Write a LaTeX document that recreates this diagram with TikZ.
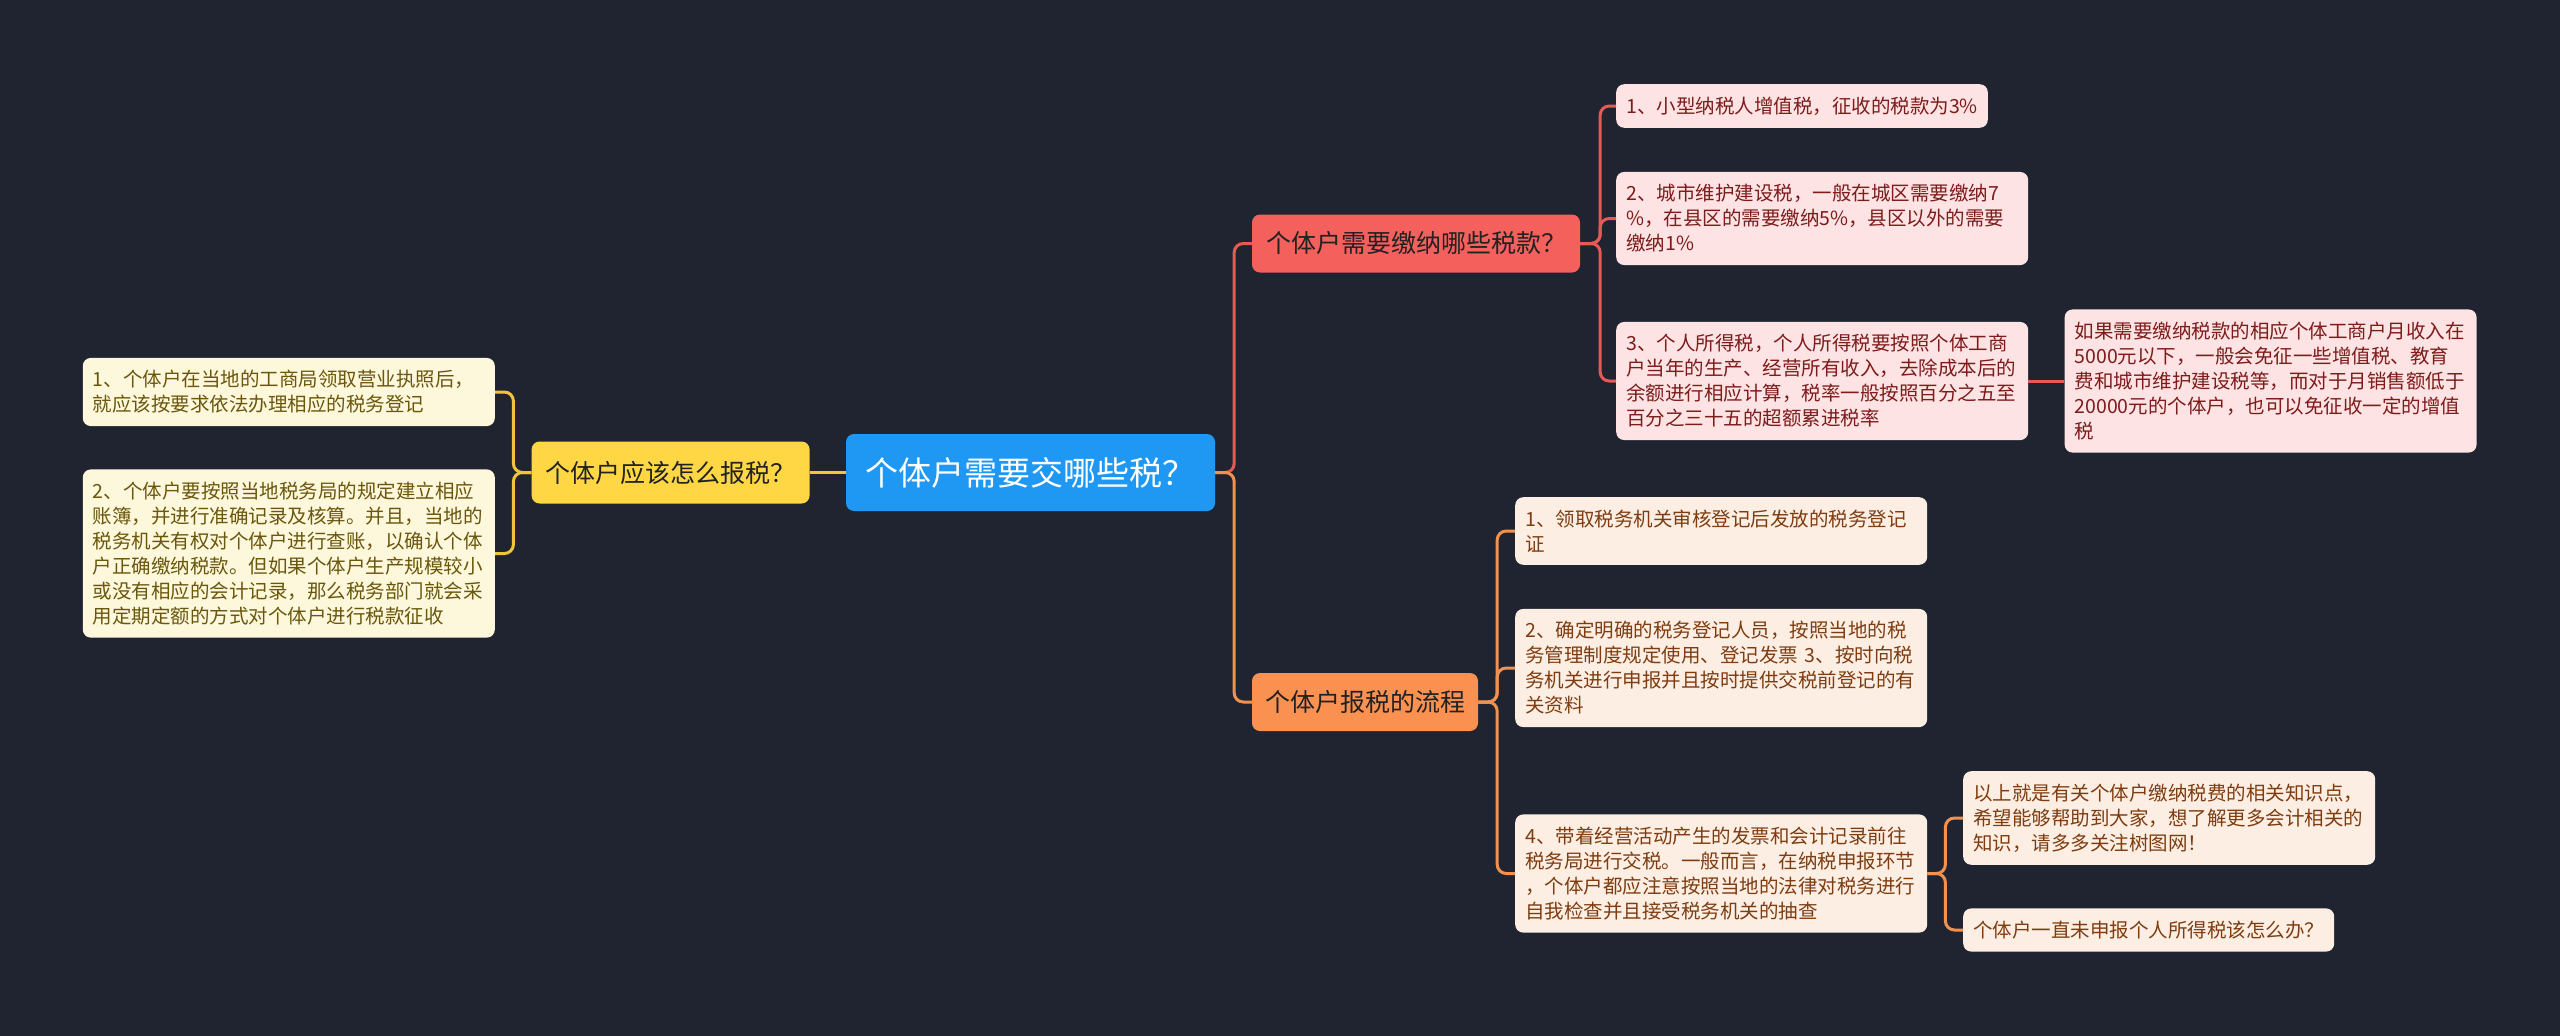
\documentclass[tikz,border=0pt]{standalone}
\usepackage{fontspec}
\setmainfont{Noto Sans CJK SC}
\usepackage{xcolor}
\usepackage{tikz}
\usetikzlibrary{positioning}

\definecolor{bgnavy}{HTML}{202330}
\definecolor{rootblue}{HTML}{1E98F2}
\definecolor{topicyellow}{HTML}{FFD643}
\definecolor{topicred}{HTML}{F4605C}
\definecolor{topicorange}{HTML}{FA9150}
\definecolor{leafred}{HTML}{FDE3E3}
\definecolor{leaforange}{HTML}{FDEEE3}
\definecolor{leafyellow}{HTML}{FDF7DB}
\definecolor{inkred}{HTML}{7E1B1B}
\definecolor{inkorange}{HTML}{7E3C10}
\definecolor{inkyellow}{HTML}{6A570C}
\definecolor{inkdark}{HTML}{222222}
\definecolor{lineyellow}{HTML}{F2C43C}
\definecolor{linered}{HTML}{E55A55}
\definecolor{lineorange}{HTML}{F0914F}

\begin{document}
\begin{tikzpicture}[
    x=1pt, y=-1pt,
    rootbox/.style={rectangle, rounded corners=8pt, fill=rootblue, text=white, minimum width=369pt, minimum height=77pt, font=\fontsize{33}{40}\selectfont},
    topic/.style={rectangle, rounded corners=8pt, text=inkdark, minimum height=58pt, inner xsep=0pt, font=\fontsize{25}{30}\selectfont},
    leaf/.style={rectangle, rounded corners=8pt, inner xsep=10pt, inner ysep=12.5pt, align=left, font=\fontsize{19.5}{25}\selectfont},
    wide/.style={text width=392pt},
    redleaf/.style={leaf, fill=leafred, text=inkred},
    orangeleaf/.style={leaf, fill=leaforange, text=inkorange},
    yellowleaf/.style={leaf, fill=leafyellow, text=inkyellow},
    link/.style={line width=3pt, rounded corners=9pt}
]
\useasboundingbox (0,0) rectangle (2560,1036);
\fill[bgnavy] (0,0) rectangle (2560,1036);

\node[rootbox] (root) at (1030.5,472.5) {个体户需要交哪些税？};
\node[topic, fill=topicyellow, minimum width=278pt, minimum height=62pt, left=36pt of root] (howto) {个体户应该怎么报税？};
\node[topic, fill=topicred, minimum width=328pt] (kinds) at (1416,243.5) {个体户需要缴纳哪些税款？};
\node[topic, fill=topicorange, minimum width=226pt] (steps) at (1365,702) {个体户报税的流程};

\node[yellowleaf, wide, anchor=east] (reg) at (495,392) {1、个体户在当地的工商局领取营业执照后，\\就应该按要求依法办理相应的税务登记};
\node[yellowleaf, wide, anchor=east] (books) at (495,553.5) {2、个体户要按照当地税务局的规定建立相应\\账簿，并进行准确记录及核算。并且，当地的\\税务机关有权对个体户进行查账，以确认个体\\户正确缴纳税款。但如果个体户生产规模较小\\或没有相应的会计记录，那么税务部门就会采\\用定期定额的方式对个体户进行税款征收};

\node[redleaf, anchor=west] (vat) at (1616,106) {1、小型纳税人增值税，征收的税款为3\%};
\node[redleaf, wide, anchor=west] (city) at (1616,218.5) {2、城市维护建设税，一般在城区需要缴纳7\\\%，在县区的需要缴纳5\%，县区以外的需要\\缴纳1\%};
\node[redleaf, wide, anchor=west] (income) at (1616,381) {3、个人所得税，个人所得税要按照个体工商\\户当年的生产、经营所有收入，去除成本后的\\余额进行相应计算，税率一般按照百分之五至\\百分之三十五的超额累进税率};
\node[redleaf, wide, right=36pt of income] (exempt) {如果需要缴纳税款的相应个体工商户月收入在\\5000元以下，一般会免征一些增值税、教育\\费和城市维护建设税等，而对于月销售额低于\\20000元的个体户，也可以免征收一定的增值\\税};

\node[orangeleaf, wide, anchor=west] (cert) at (1515,531) {1、领取税务机关审核登记后发放的税务登记\\证};
\node[orangeleaf, wide, anchor=west] (staff) at (1515,668) {2、确定明确的税务登记人员，按照当地的税\\务管理制度规定使用、登记发票 3、按时向税\\务机关进行申报并且按时提供交税前登记的有\\关资料};
\node[orangeleaf, wide, anchor=west] (pay) at (1515,873.5) {4、带着经营活动产生的发票和会计记录前往\\税务局进行交税。一般而言，在纳税申报环节\\，个体户都应注意按照当地的法律对税务进行\\自我检查并且接受税务机关的抽查};
\node[orangeleaf, wide, anchor=west] (summary) at (1963,818) {以上就是有关个体户缴纳税费的相关知识点，\\希望能够帮助到大家，想了解更多会计相关的\\知识，请多多关注树图网！};
\node[orangeleaf, anchor=west] (unfiled) at (1963,930) {个体户一直未申报个人所得税该怎么办？};

\draw[link, lineyellow] (root) -- (howto);
\draw[link, lineyellow] (howto.west) -- ++(-18,0) |- (reg.east);
\draw[link, lineyellow] (howto.west) -- ++(-18,0) |- (books.east);

\draw[link, linered] (root.east) -- ++(19,0) |- (kinds.west);
\draw[link, lineorange] (root.east) -- ++(19,0) |- (steps.west);

\draw[link, linered] (kinds.east) -- ++(20,0) |- (vat.west);
\draw[link, linered] (kinds.east) -- ++(20,0) |- (city.west);
\draw[link, linered] (kinds.east) -- ++(20,0) |- (income.west);
\draw[link, linered] (income) -- (exempt);

\draw[link, lineorange] (steps.east) -- ++(19,0) |- (cert.west);
\draw[link, lineorange] (steps.east) -- ++(19,0) |- (staff.west);
\draw[link, lineorange] (steps.east) -- ++(19,0) |- (pay.west);
\draw[link, lineorange] (pay.east) -- ++(18,0) |- (summary.west);
\draw[link, lineorange] (pay.east) -- ++(18,0) |- (unfiled.west);

\end{tikzpicture}
\end{document}
